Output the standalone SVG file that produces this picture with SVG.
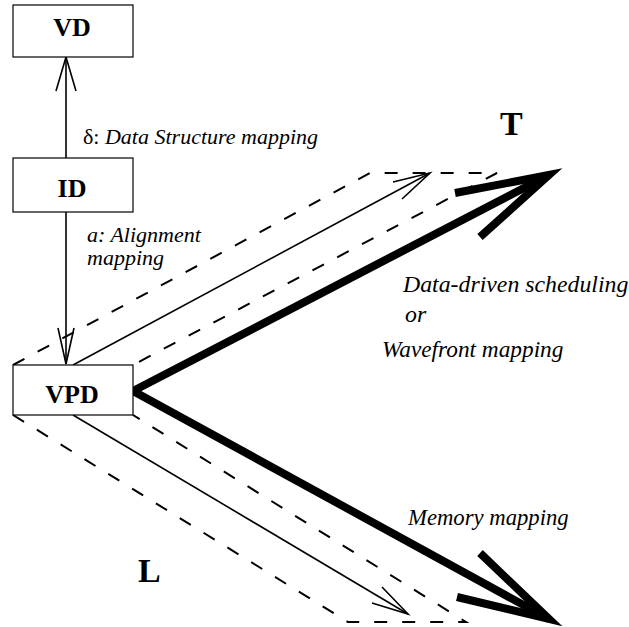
<svg xmlns="http://www.w3.org/2000/svg" width="629" height="627" viewBox="0 0 629 627">
<style>
.box{fill:#fff;stroke:#000;stroke-width:1.2}
.lbl{font-family:"Liberation Serif","Times New Roman",serif;font-weight:bold;font-size:26px;text-anchor:middle;fill:#000}
.it{font-family:"Liberation Serif","Times New Roman",serif;font-style:italic;fill:#000}
.rm{font-family:"Liberation Serif","Times New Roman",serif;font-size:22px;fill:#000}
.big{font-family:"Liberation Serif","Times New Roman",serif;font-weight:bold;font-size:34px;fill:#000}
.thin{fill:none;stroke:#000;stroke-width:1.6}
.dash{fill:none;stroke:#000;stroke-width:2;stroke-dasharray:13 15}
.thick{fill:none;stroke:#000;stroke-width:8;stroke-linejoin:miter;stroke-linecap:butt}
</style>
<rect width="629" height="627" fill="#fff"/>
<g id="connectors">
  <line class="thin" x1="66" y1="158" x2="66" y2="57"/>
  <polyline class="thin" points="56,91 66,57 76,91"/>
  <line class="thin" x1="66" y1="212" x2="66" y2="364"/>
  <polyline class="thin" points="58,328 66,364 74,328"/>
  <polyline class="dash" points="13,365 370,173 497,173 133,365"/>
  <line class="thin" x1="73" y1="365" x2="430" y2="173"/>
  <polyline class="thin" points="393,182 430,173 402,199"/>
  <polyline class="dash" points="13,415 348,622 466,622 133,415"/>
  <line class="thin" x1="73" y1="415" x2="408" y2="614"/>
  <polyline class="thin" points="372,603 408,614 382,587"/>
  <line class="thick" x1="133" y1="391" x2="549" y2="175"/>
  <polyline class="thick" points="455,193 549,175 480,237"/>
  <line class="thick" x1="133" y1="391" x2="549" y2="619"/>
  <polyline class="thick" points="480,553 549,619 457,597"/>
</g>
<g id="node-VD">
  <rect class="box" x="13" y="5" width="120" height="52"/>
  <text class="lbl" x="72" y="36">VD</text>
</g>
<g id="node-ID">
  <rect class="box" x="13" y="158" width="120" height="54"/>
  <text class="lbl" x="72" y="197">ID</text>
</g>
<g id="node-VPD">
  <rect class="box" x="13" y="365" width="120" height="50"/>
  <text class="lbl" x="72" y="403">VPD</text>
</g>
<g id="labels">
  <text class="rm" x="83" y="144">δ: <tspan font-style="italic">Data Structure mapping</tspan></text>
  <text class="it" x="87" y="242" style="font-size:22px">a: Alignment</text>
  <text class="it" x="87" y="265" style="font-size:22px">mapping</text>
  <text class="it" x="403" y="292" style="font-size:23.8px">Data-driven scheduling</text>
  <text class="it" x="405" y="322" style="font-size:23.8px">or</text>
  <text class="it" x="382" y="357" style="font-size:23.3px">Wavefront mapping</text>
  <text class="it" x="408" y="525" style="font-size:22.7px">Memory mapping</text>
  <text class="big" x="500" y="135">T</text>
  <text class="big" x="138" y="582">L</text>
</g>
</svg>
